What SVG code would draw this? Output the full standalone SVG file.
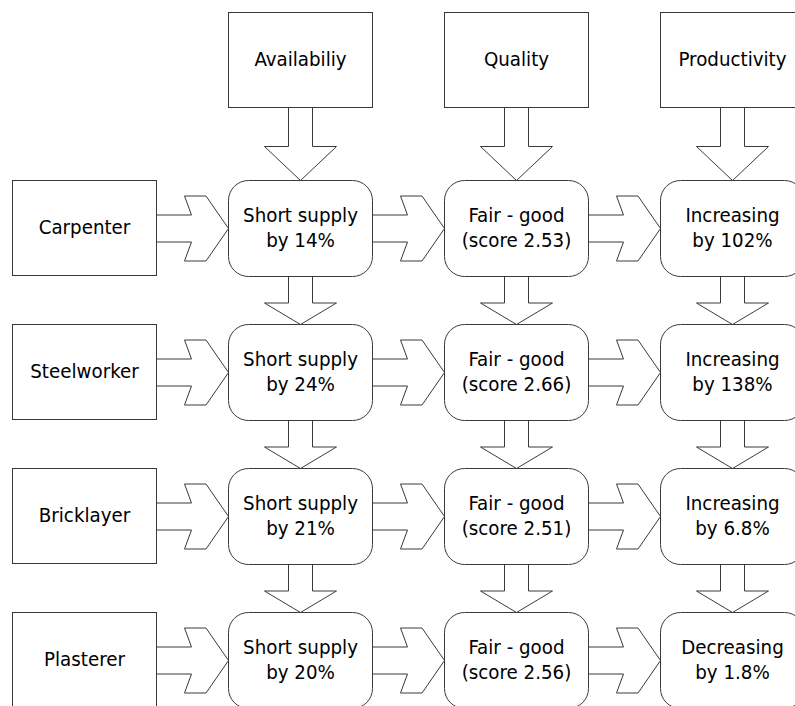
<svg xmlns="http://www.w3.org/2000/svg" width="795" height="706" viewBox="0 0 795 706">
<defs>
<style>
.box{fill:#fff;stroke:#3a3a3a;stroke-width:1}
.arr{fill:#fff;stroke:#3a3a3a;stroke-width:1;stroke-linejoin:miter}
text{font-family:"DejaVu Sans Condensed","DejaVu Sans",sans-serif;font-size:20.3px;fill:#000;text-anchor:middle}
</style>
</defs>
<rect width="795" height="706" fill="#fff"/>
<g id="connectors">
<path class="arr" d="M288.5,107.5 L312.5,107.5 L312.5,146.5 L336.5,146.5 L300.5,180.5 L264.5,146.5 L288.5,146.5 Z"/>
<path class="arr" d="M504.5,107.5 L528.5,107.5 L528.5,146.5 L552.5,146.5 L516.5,180.5 L480.5,146.5 L504.5,146.5 Z"/>
<path class="arr" d="M720.5,107.5 L744.5,107.5 L744.5,146.5 L768.5,146.5 L732.5,180.5 L696.5,146.5 L720.5,146.5 Z"/>
<path class="arr" d="M288.5,276.5 L312.5,276.5 L312.5,303 L336.5,303 L300.5,324.5 L264.5,303 L288.5,303 Z"/>
<path class="arr" d="M288.5,420.5 L312.5,420.5 L312.5,447 L336.5,447 L300.5,468.5 L264.5,447 L288.5,447 Z"/>
<path class="arr" d="M288.5,564.5 L312.5,564.5 L312.5,591 L336.5,591 L300.5,612.5 L264.5,591 L288.5,591 Z"/>
<path class="arr" d="M504.5,276.5 L528.5,276.5 L528.5,303 L552.5,303 L516.5,324.5 L480.5,303 L504.5,303 Z"/>
<path class="arr" d="M504.5,420.5 L528.5,420.5 L528.5,447 L552.5,447 L516.5,468.5 L480.5,447 L504.5,447 Z"/>
<path class="arr" d="M504.5,564.5 L528.5,564.5 L528.5,591 L552.5,591 L516.5,612.5 L480.5,591 L504.5,591 Z"/>
<path class="arr" d="M720.5,276.5 L744.5,276.5 L744.5,303 L768.5,303 L732.5,324.5 L696.5,303 L720.5,303 Z"/>
<path class="arr" d="M720.5,420.5 L744.5,420.5 L744.5,447 L768.5,447 L732.5,468.5 L696.5,447 L720.5,447 Z"/>
<path class="arr" d="M720.5,564.5 L744.5,564.5 L744.5,591 L768.5,591 L732.5,612.5 L696.5,591 L720.5,591 Z"/>
<path class="arr" d="M156.5,215 L191.5,215 L184.5,196 L206,196 L228.5,228.5 L206,261 L184.5,261 L191.5,242 L156.5,242 Z"/>
<path class="arr" d="M372.5,215 L407.5,215 L400.5,196 L422,196 L444.5,228.5 L422,261 L400.5,261 L407.5,242 L372.5,242 Z"/>
<path class="arr" d="M588.5,215 L623.5,215 L616.5,196 L638,196 L660.5,228.5 L638,261 L616.5,261 L623.5,242 L588.5,242 Z"/>
<path class="arr" d="M156.5,359 L191.5,359 L184.5,340 L206,340 L228.5,372.5 L206,405 L184.5,405 L191.5,386 L156.5,386 Z"/>
<path class="arr" d="M372.5,359 L407.5,359 L400.5,340 L422,340 L444.5,372.5 L422,405 L400.5,405 L407.5,386 L372.5,386 Z"/>
<path class="arr" d="M588.5,359 L623.5,359 L616.5,340 L638,340 L660.5,372.5 L638,405 L616.5,405 L623.5,386 L588.5,386 Z"/>
<path class="arr" d="M156.5,503 L191.5,503 L184.5,484 L206,484 L228.5,516.5 L206,549 L184.5,549 L191.5,530 L156.5,530 Z"/>
<path class="arr" d="M372.5,503 L407.5,503 L400.5,484 L422,484 L444.5,516.5 L422,549 L400.5,549 L407.5,530 L372.5,530 Z"/>
<path class="arr" d="M588.5,503 L623.5,503 L616.5,484 L638,484 L660.5,516.5 L638,549 L616.5,549 L623.5,530 L588.5,530 Z"/>
<path class="arr" d="M156.5,647 L191.5,647 L184.5,628 L206,628 L228.5,660.5 L206,693 L184.5,693 L191.5,674 L156.5,674 Z"/>
<path class="arr" d="M372.5,647 L407.5,647 L400.5,628 L422,628 L444.5,660.5 L422,693 L400.5,693 L407.5,674 L372.5,674 Z"/>
<path class="arr" d="M588.5,647 L623.5,647 L616.5,628 L638,628 L660.5,660.5 L638,693 L616.5,693 L623.5,674 L588.5,674 Z"/>
</g>
<g id="hdr-availability"><rect class="box" x="228.5" y="12.5" width="144" height="95"/><text x="300.5" y="66">Availabiliy</text></g>
<g id="hdr-quality"><rect class="box" x="444.5" y="12.5" width="144" height="95"/><text x="516.5" y="66">Quality</text></g>
<g id="hdr-productivity"><rect class="box" x="660.5" y="12.5" width="144" height="95"/><text x="732.5" y="66">Productivity</text></g>

<g id="carpenter"><rect class="box" x="12.5" y="180.5" width="144" height="95"/><text x="84.5" y="234">Carpenter</text></g>
<g id="steelworker"><rect class="box" x="12.5" y="324.5" width="144" height="95"/><text x="84.5" y="378">Steelworker</text></g>
<g id="bricklayer"><rect class="box" x="12.5" y="468.5" width="144" height="95"/><text x="84.5" y="522">Bricklayer</text></g>
<g id="plasterer"><rect class="box" x="12.5" y="612.5" width="144" height="95"/><text x="84.5" y="666">Plasterer</text></g>

<g id="carp-avail"><rect class="box" x="228.5" y="180.5" width="144" height="96" rx="20"/><text x="300.5" y="221.5">Short supply</text><text x="300.5" y="246.5">by 14%</text></g>
<g id="carp-qual"><rect class="box" x="444.5" y="180.5" width="144" height="96" rx="20"/><text x="516.5" y="221.5">Fair - good</text><text x="516.5" y="246.5">(score 2.53)</text></g>
<g id="carp-prod"><rect class="box" x="660.5" y="180.5" width="144" height="96" rx="20"/><text x="732.5" y="221.5">Increasing</text><text x="732.5" y="246.5">by 102%</text></g>

<g id="steel-avail"><rect class="box" x="228.5" y="324.5" width="144" height="96" rx="20"/><text x="300.5" y="365.5">Short supply</text><text x="300.5" y="390.5">by 24%</text></g>
<g id="steel-qual"><rect class="box" x="444.5" y="324.5" width="144" height="96" rx="20"/><text x="516.5" y="365.5">Fair - good</text><text x="516.5" y="390.5">(score 2.66)</text></g>
<g id="steel-prod"><rect class="box" x="660.5" y="324.5" width="144" height="96" rx="20"/><text x="732.5" y="365.5">Increasing</text><text x="732.5" y="390.5">by 138%</text></g>

<g id="brick-avail"><rect class="box" x="228.5" y="468.5" width="144" height="96" rx="20"/><text x="300.5" y="509.5">Short supply</text><text x="300.5" y="534.5">by 21%</text></g>
<g id="brick-qual"><rect class="box" x="444.5" y="468.5" width="144" height="96" rx="20"/><text x="516.5" y="509.5">Fair - good</text><text x="516.5" y="534.5">(score 2.51)</text></g>
<g id="brick-prod"><rect class="box" x="660.5" y="468.5" width="144" height="96" rx="20"/><text x="732.5" y="509.5">Increasing</text><text x="732.5" y="534.5">by 6.8%</text></g>

<g id="plast-avail"><rect class="box" x="228.5" y="612.5" width="144" height="96" rx="20"/><text x="300.5" y="653.5">Short supply</text><text x="300.5" y="678.5">by 20%</text></g>
<g id="plast-qual"><rect class="box" x="444.5" y="612.5" width="144" height="96" rx="20"/><text x="516.5" y="653.5">Fair - good</text><text x="516.5" y="678.5">(score 2.56)</text></g>
<g id="plast-prod"><rect class="box" x="660.5" y="612.5" width="144" height="96" rx="20"/><text x="732.5" y="653.5">Decreasing</text><text x="732.5" y="678.5">by 1.8%</text></g>
</svg>
